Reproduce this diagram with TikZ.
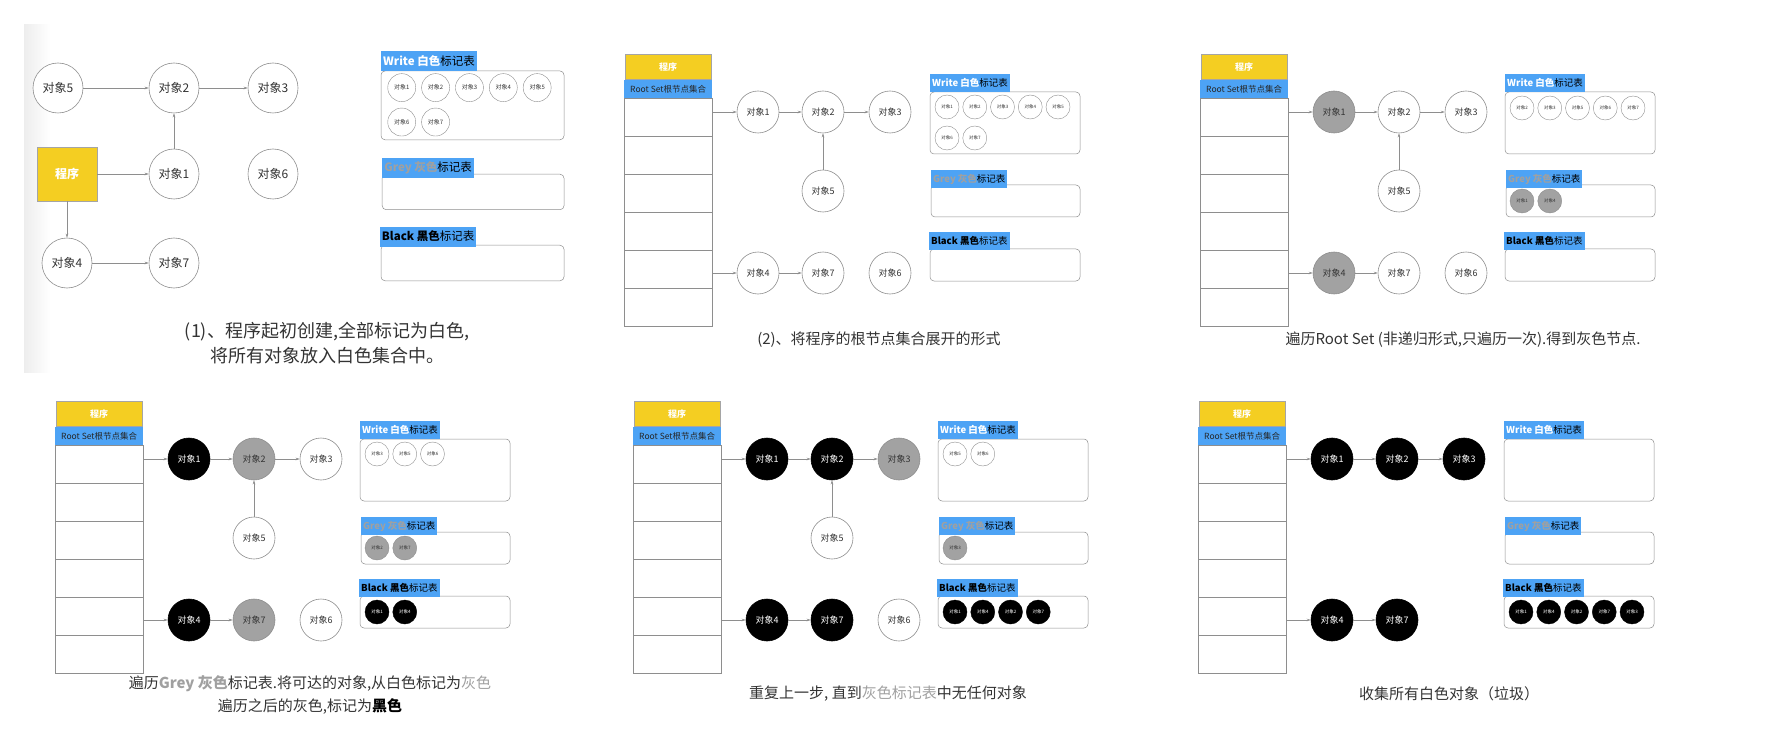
\documentclass[tikz,border=0pt]{standalone}
\usepackage{fontspec}
\setmainfont{Noto Sans CJK SC}
\usepackage{xcolor}
\usetikzlibrary{positioning, calc, arrows.meta}

\definecolor{progyellow}{HTML}{F4CE22}
\definecolor{tagblue}{HTML}{4DA3F5}
\definecolor{linegray}{HTML}{8E8E8E}
\definecolor{greyobj}{HTML}{A2A2A2}
\definecolor{captext}{HTML}{333333}
\definecolor{greytext}{HTML}{A0A0A0}

% program box with the root set column, origin = top left of the program box
\newcommand{\rootcolumn}[1]{%
  \draw[listline] (-1,44) rectangle (87,272);
  \foreach \r in {1,...,5}
    \draw[listline] (-1,44+38*\r) -- (87,44+38*\r);
  \node[progbox, anchor=north west] (#1prog) at (0,0) {程序};
  \node[rootlabel, anchor=north west] (#1root) at (-1,26) {Root Set根节点集合};
  \coordinate (#1r1) at (87,58);
  \coordinate (#1r4) at (87,219);
}

% the three mark tables, origin = top left of the white tag
\newcommand{\marklists}[1]{%
  \draw[markbox] (0,18) rectangle (150,80);
  \node[marktag, anchor=north west] (#1wt) at (0,0) {\textcolor{white}{\bfseries Write 白色}标记表};
  \draw[markbox] (1,111) rectangle (150,143);
  \node[marktag, anchor=north west] (#1gt) at (1,96) {\textcolor{greytext}{\bfseries Grey 灰色}标记表};
  \draw[markbox] (0,175) rectangle (150,207);
  \node[marktag, anchor=north west] (#1bt) at (-1,158) {{\bfseries Black 黑色}标记表};
}

% small objects in a table: prefix, y, style, list
\newcommand{\putmarks}[4]{%
  \foreach \n [count=\k from 0] in {#4} {
    \pgfmathsetmacro{\mx}{17+27.75*mod(\k,5)}
    \pgfmathsetmacro{\my}{#2+31*floor(\k/5)}
    \node[#3] (#1\n) at (\mx,\my) {对象\n};
  }%
}

\begin{document}
\begin{tikzpicture}[x=1pt, y=-1pt,
    objnode/.style={circle, draw=linegray, line width=0.6pt, fill=white, text=captext,
      minimum size=42pt, inner sep=0pt, font=\fontsize{9}{9}\selectfont},
    greyo/.style={objnode, fill=greyobj},
    blacko/.style={objnode, draw=black, fill=black, text=white},
    bigobj/.style={objnode, minimum size=50pt, font=\fontsize{12}{12}\selectfont},
    markobj/.style={circle, draw=linegray, line width=0.4pt, fill=white, text=captext,
      minimum size=24pt, inner sep=0pt, font=\fontsize{4.5}{4.5}\selectfont},
    greymark/.style={markobj, fill=greyobj},
    blackmark/.style={markobj, draw=black, fill=black, text=white},
    progbox/.style={draw=linegray!80, fill=progyellow, text=white, minimum width=86pt,
      minimum height=25pt, inner sep=0pt, font=\bfseries\fontsize{9}{9}\selectfont},
    bigprog/.style={progbox, minimum width=60pt, minimum height=54pt,
      font=\bfseries\fontsize{12}{12}\selectfont},
    rootlabel/.style={fill=tagblue, text=black!85, minimum width=88pt, minimum height=18pt,
      inner sep=0pt, font=\fontsize{8.5}{8.5}\selectfont},
    marktag/.style={fill=tagblue, text=black, minimum height=18pt, inner sep=2pt,
      font=\fontsize{9.5}{9.5}\selectfont},
    markbox/.style={draw=linegray, line width=0.5pt, rounded corners=4pt},
    listline/.style={draw=linegray, line width=0.5pt},
    arr/.style={-{Stealth[length=4pt, width=2.6pt]}, draw=linegray, line width=0.5pt},
    captionnode/.style={text=captext, align=center, font=\fontsize{15}{23}\selectfont}]

  \useasboundingbox (0,0) rectangle (1776,743);

  % (1) program creates all objects
  \shade[left color=gray!14, right color=white] (24,25) rectangle (50,372);
  \node[bigobj] (a5) at (58,88) {对象5};
  \node[bigobj] (a2) at (174,88) {对象2};
  \node[bigobj] (a3) at (273,88) {对象3};
  \node[bigprog] (aprog) at (67,174) {程序};
  \node[bigobj] (a1) at (174,174) {对象1};
  \node[bigobj] (a6) at (273,174) {对象6};
  \node[bigobj] (a4) at (67,263) {对象4};
  \node[bigobj] (a7) at (174,263) {对象7};
  \draw[arr] (a5) -- (a2);
  \draw[arr] (a2) -- (a3);
  \draw[arr] (aprog) -- (a1);
  \draw[arr] (a1) -- (a2);
  \draw[arr] (aprog) -- (a4);
  \draw[arr] (a4) -- (a7);
  \begin{scope}[shift={(381,51)}, xscale=1.22, yscale=1.11,
      marktag/.append style={minimum height=20pt, font=\fontsize{11.5}{11.5}\selectfont},
      markobj/.append style={minimum size=28pt, font=\fontsize{6}{6}\selectfont}]
    \marklists{a}
    \putmarks{aw}{33}{markobj}{1,...,7}
  \end{scope}
  \node[captionnode, font=\fontsize{18}{25}\selectfont] (acap) at (327,343)
    {(1)、程序起初创建,全部标记为白色,\\将所有对象放入白色集合中。};

  % (2) root set expanded
  \begin{scope}[shift={(625,54)}]
    \rootcolumn{b}
    \node[objnode] (bo1) at (133,58) {对象1};
    \node[objnode] (bo2) at (198,58) {对象2};
    \node[objnode] (bo3) at (265,58) {对象3};
    \node[objnode] (bo5) at (198,137) {对象5};
    \node[objnode] (bo4) at (133,219) {对象4};
    \node[objnode] (bo7) at (198,219) {对象7};
    \node[objnode] (bo6) at (265,219) {对象6};
    \draw[arr] (br1) -- (bo1);
    \draw[arr] (bo1) -- (bo2);
    \draw[arr] (bo2) -- (bo3);
    \draw[arr] (bo5) -- (bo2);
    \draw[arr] (br4) -- (bo4);
    \draw[arr] (bo4) -- (bo7);
    \begin{scope}[shift={(305,20)}]
      \marklists{b}
      \putmarks{bw}{33}{markobj}{1,...,7}
    \end{scope}
    \node[captionnode] (bcap) at (254,286) {(2)、将程序的根节点集合展开的形式};
  \end{scope}

  % (3) walk the root set once
  \begin{scope}[shift={(1201,54)}]
    \rootcolumn{c}
    \node[greyo] (co1) at (133,58) {对象1};
    \node[objnode] (co2) at (198,58) {对象2};
    \node[objnode] (co3) at (265,58) {对象3};
    \node[objnode] (co5) at (198,137) {对象5};
    \node[greyo] (co4) at (133,219) {对象4};
    \node[objnode] (co7) at (198,219) {对象7};
    \node[objnode] (co6) at (265,219) {对象6};
    \draw[arr] (cr1) -- (co1);
    \draw[arr] (co1) -- (co2);
    \draw[arr] (co2) -- (co3);
    \draw[arr] (co5) -- (co2);
    \draw[arr] (cr4) -- (co4);
    \draw[arr] (co4) -- (co7);
    \begin{scope}[shift={(304,20)}]
      \marklists{c}
      \putmarks{cw}{34}{markobj}{2,3,5,6,7}
      \putmarks{cg}{127}{greymark}{1,4}
    \end{scope}
    \node[captionnode] (ccap) at (262,286) {遍历Root Set (非递归形式,只遍历一次).得到灰色节点.};
  \end{scope}

  % (4) walk the grey table
  \begin{scope}[shift={(56,401)}]
    \rootcolumn{d}
    \node[blacko] (do1) at (133,58) {对象1};
    \node[greyo] (do2) at (198,58) {对象2};
    \node[objnode] (do3) at (265,58) {对象3};
    \node[objnode] (do5) at (198,137) {对象5};
    \node[blacko] (do4) at (133,219) {对象4};
    \node[greyo] (do7) at (198,219) {对象7};
    \node[objnode] (do6) at (265,219) {对象6};
    \draw[arr] (dr1) -- (do1);
    \draw[arr] (do1) -- (do2);
    \draw[arr] (do2) -- (do3);
    \draw[arr] (do5) -- (do2);
    \draw[arr] (dr4) -- (do4);
    \draw[arr] (do4) -- (do7);
    \begin{scope}[shift={(304,20)}]
      \marklists{d}
      \putmarks{dw}{33}{markobj}{3,5,6}
      \putmarks{dg}{127}{greymark}{2,7}
      \putmarks{db}{191}{blackmark}{1,4}
    \end{scope}
    \node[captionnode] (dcap) at (254,293.5)
      {遍历\textcolor{greytext}{\bfseries Grey 灰色}标记表.将可达的对象,从白色标记为\textcolor{greytext}{灰色}\\
       遍历之后的灰色,标记为\textcolor{black}{\bfseries 黑色}};
  \end{scope}

  % (5) repeat until the grey table is empty
  \begin{scope}[shift={(634,401)}]
    \rootcolumn{e}
    \node[blacko] (eo1) at (133,58) {对象1};
    \node[blacko] (eo2) at (198,58) {对象2};
    \node[greyo] (eo3) at (265,58) {对象3};
    \node[objnode] (eo5) at (198,137) {对象5};
    \node[blacko] (eo4) at (133,219) {对象4};
    \node[blacko] (eo7) at (198,219) {对象7};
    \node[objnode] (eo6) at (265,219) {对象6};
    \draw[arr] (er1) -- (eo1);
    \draw[arr] (eo1) -- (eo2);
    \draw[arr] (eo2) -- (eo3);
    \draw[arr] (eo5) -- (eo2);
    \draw[arr] (er4) -- (eo4);
    \draw[arr] (eo4) -- (eo7);
    \begin{scope}[shift={(304,20)}]
      \marklists{e}
      \putmarks{ew}{33}{markobj}{5,6}
      \putmarks{eg}{127}{greymark}{3}
      \putmarks{eb}{191}{blackmark}{1,4,2,7}
    \end{scope}
    \node[captionnode] (ecap) at (254,293)
      {重复上一步, 直到\textcolor{greytext}{灰色标记表}中无任何对象};
  \end{scope}

  % (6) collect the white objects
  \begin{scope}[shift={(1199,401)}]
    \rootcolumn{f}
    \node[blacko] (fo1) at (133,58) {对象1};
    \node[blacko] (fo2) at (198,58) {对象2};
    \node[blacko] (fo3) at (265,58) {对象3};
    \node[blacko] (fo4) at (133,219) {对象4};
    \node[blacko] (fo7) at (198,219) {对象7};
    \draw[arr] (fr1) -- (fo1);
    \draw[arr] (fo1) -- (fo2);
    \draw[arr] (fo2) -- (fo3);
    \draw[arr] (fr4) -- (fo4);
    \draw[arr] (fo4) -- (fo7);
    \begin{scope}[shift={(305,20)}]
      \marklists{f}
      \putmarks{fb}{191}{blackmark}{1,4,2,7,3}
    \end{scope}
    \node[captionnode] (fcap) at (250,293) {收集所有白色对象（垃圾）};
  \end{scope}

\end{tikzpicture}
\end{document}
